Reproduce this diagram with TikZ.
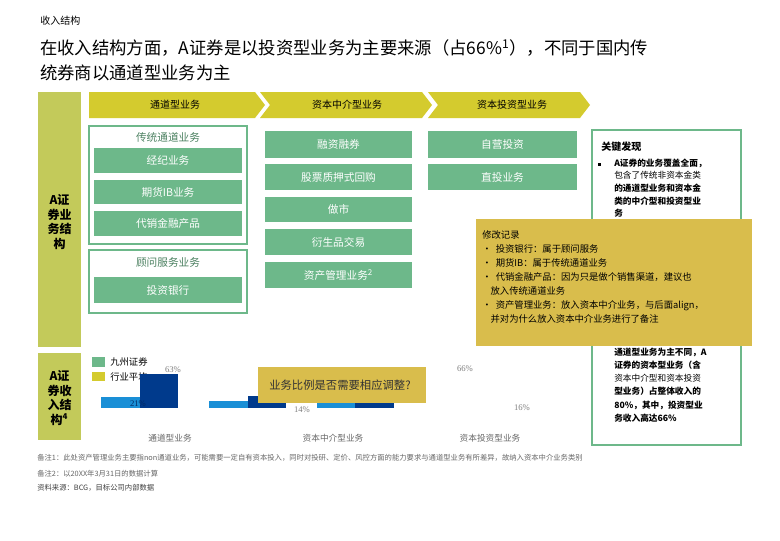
\documentclass[tikz,border=0pt]{standalone}
\usepackage{fontspec}
\setmainfont{Liberation Serif}
\newfontfamily\cjk{Noto Sans CJK SC}
\begin{document}
\begin{tikzpicture}[x=0.75pt,y=-0.75pt,
  obox/.style={draw=boxg,line width=1.2pt,fill=none},
  small/.style={font=\cjk\fontsize{7}{8}\selectfont,anchor=west,inner sep=0pt},
  foot/.style={font=\cjk\fontsize{5.5}{6}\selectfont,anchor=west,inner sep=0pt,text=gray!80!black}]
\definecolor{boxg}{HTML}{6DB88A}
\definecolor{chev}{HTML}{D4CB2E}
\definecolor{lbar}{HTML}{C3CA5A}
\definecolor{ovl}{HTML}{D9BD4C}
\definecolor{dblue}{HTML}{003A8C}
\definecolor{lblue}{HTML}{1A8FD6}
\useasboundingbox (0,0) rectangle (780,540);
\fill[white] (0,0) rectangle (780,540);
% header
\node[anchor=west,inner sep=0pt,font=\cjk\fontsize{7.5}{8}\selectfont] (hdr) at (40,21) {收入结构};
\node[anchor=west,inner sep=0pt,font=\cjk\fontsize{13}{14}\selectfont] (t1) at (40,48) {在收入结构方面，A证券是以投资型业务为主要来源（占66\%\textsuperscript{1}），不同于国内传};
\node[anchor=west,inner sep=0pt,font=\cjk\fontsize{13}{14}\selectfont] (t2) at (40,73) {统券商以通道型业务为主};
% left bars
\fill[lbar] (38,92) rectangle (81,347);
\node[font=\cjk\bfseries\fontsize{9}{11}\selectfont,align=center] (lb1) at (59.5,222) {A证\\券业\\务结\\构};
\fill[lbar] (38,353) rectangle (81,440);
\node[font=\cjk\bfseries\fontsize{9}{11}\selectfont,align=center] (lb2) at (59.5,398) {A证\\券收\\入结\\构\textsuperscript{4}};
% chevrons
\fill[chev] (89,92) -- (255,92) -- (265,105) -- (255,118) -- (89,118) -- cycle;
\fill[chev] (260,92) -- (422,92) -- (432,105) -- (422,118) -- (260,118) -- (270,105) -- cycle;
\fill[chev] (428,92) -- (580,92) -- (590,105) -- (580,118) -- (428,118) -- (438,105) -- cycle;
\node[font=\cjk\fontsize{7.5}{8}\selectfont] (c1) at (175,105) {通道型业务};
\node[font=\cjk\fontsize{7.5}{8}\selectfont] (c2) at (347,105) {资本中介型业务};
\node[font=\cjk\fontsize{7.5}{8}\selectfont] (c3) at (512,105) {资本投资型业务};
% column 1
\draw[obox] (89,126) rectangle (247,244);
\node[font=\cjk\fontsize{8}{9}\selectfont,text=boxg!70!black] (g1) at (168,137) {传统通道业务};
\fill[boxg] (94,148) rectangle (242,173); \node[text=white,font=\cjk\fontsize{8}{9}\selectfont] (b1) at (168,160.5) {经纪业务};
\fill[boxg] (94,180) rectangle (242,204); \node[text=white,font=\cjk\fontsize{8}{9}\selectfont] (b2) at (168,192) {期货IB业务};
\fill[boxg] (94,211) rectangle (242,236); \node[text=white,font=\cjk\fontsize{8}{9}\selectfont] (b3) at (168,223.5) {代销金融产品};
\draw[obox] (89,250) rectangle (247,313);
\node[font=\cjk\fontsize{8}{9}\selectfont,text=boxg!70!black] (g2) at (168,262) {顾问服务业务};
\fill[boxg] (94,277) rectangle (242,303); \node[text=white,font=\cjk\fontsize{8}{9}\selectfont] (b4) at (168,290) {投资银行};
% column 2
\foreach \ya/\yb/\t [count=\i] in {131/158/融资融券,164/190/股票质押式回购,197/222/做市,229/255/衍生品交易,262/288/资产管理业务\textsuperscript{2}}{
  \fill[boxg] (265,\ya) rectangle (412,\yb);
  \node[text=white,font=\cjk\fontsize{8}{9}\selectfont] (m\i) at (338.5,{(\ya+\yb)/2}) {\t};
}
% column 3
\fill[boxg] (428,131) rectangle (577,158); \node[text=white,font=\cjk\fontsize{8}{9}\selectfont] (r1) at (502.5,144.5) {自营投资};
\fill[boxg] (428,164) rectangle (577,190); \node[text=white,font=\cjk\fontsize{8}{9}\selectfont] (r2) at (502.5,177) {直投业务};
% key findings
\draw[draw=boxg,line width=1pt] (592,130) rectangle (741,445);
\node[anchor=west,inner sep=0pt,font=\cjk\bfseries\fontsize{7.5}{8}\selectfont] (kf) at (601,147) {关键发现};
\fill (598,163) rectangle (601,166);
\node[anchor=north west,inner sep=0pt,align=left,font=\cjk\bfseries\fontsize{6.5}{9.5}\selectfont] (kft) at (614,159) {A证券的业务覆盖全面，\\[-0.5pt]\mdseries 包含了传统非资本金类\\的通道型业务和资本金\\类的中介型和投资型业\\务};
\node[anchor=north west,inner sep=0pt,align=left,font=\cjk\bfseries\fontsize{6.5}{9.8}\selectfont] (kfb) at (614,348) {通道型业务为主不同，A\\证券的资本型业务（含\\\mdseries 资本中介型和资本投资\\\bfseries 型业务）占整体收入的\\80\%，其中，投资型业\\务收入高达66\%};
% overlay 1
\fill[ovl] (476,219) rectangle (752,346);
\node[anchor=north west,inner sep=0pt,align=left,font=\cjk\fontsize{7}{10.5}\selectfont] (rev) at (482,230) {修改记录\\•\ \ 投资银行：属于顾问服务\\•\ \ 期货IB：属于传统通道业务\\•\ \ 代销金融产品：因为只是做个销售渠道，建议也\\\ \ \ \ 放入传统通道业务\\•\ \ 资产管理业务：放入资本中介业务，与后面align，\\\ \ \ \ 并对为什么放入资本中介业务进行了备注};
% chart
\fill[boxg] (92,357) rectangle (105,367);
\node[small] (l1) at (110,362) {九州证券};
\fill[chev] (92,372) rectangle (105,381);
\node[small] (l2) at (110,377) {行业平均};
\fill[lblue] (101,397) rectangle (140,408);
\fill[dblue] (140,374) rectangle (178,408);
\fill[lblue] (209,401) rectangle (248,408);
\fill[dblue] (248,396) rectangle (286,408);
\fill[lblue] (317,401) rectangle (355,408);
\fill[dblue] (355,396) rectangle (394,408);
\node[font=\fontsize{6.5}{7}\selectfont,text=gray] (p1) at (173,370) {63\%};
\node[font=\fontsize{6.5}{7}\selectfont,text=dblue!70!black] (p2) at (138,404) {21\%};
\node[font=\fontsize{6.5}{7}\selectfont,text=gray] (p3) at (302,410) {14\%};
\node[font=\fontsize{6.5}{7}\selectfont,text=gray] (p4) at (465,369) {66\%};
\node[font=\fontsize{6.5}{7}\selectfont,text=gray] (p5) at (522,408) {16\%};
\fill[ovl] (258,367) rectangle (426,403);
\node[font=\cjk\fontsize{8.5}{9}\selectfont,text=black!80] (q) at (340,385) {业务比例是否需要相应调整?};
\node[font=\cjk\fontsize{6.5}{7}\selectfont,text=gray!80!black] (x1) at (170,438) {通道型业务};
\node[font=\cjk\fontsize{6.5}{7}\selectfont,text=gray!80!black] (x2) at (333,438) {资本中介型业务};
\node[font=\cjk\fontsize{6.5}{7}\selectfont,text=gray!80!black] (x3) at (490,438) {资本投资型业务};
% footnotes
\node[foot] (f1) at (37,458) {备注1：此处资产管理业务主要指non通道业务，可能需要一定自有资本投入，同时对投研、定价、风控方面的能力要求与通道型业务有所差异，故纳入资本中介业务类别};
\node[foot] (f2) at (37,474) {备注2：以20XX年3月31日的数据计算};
\node[foot,text=black!75] (f3) at (37,488) {资料来源：BCG，目标公司内部数据};
\end{tikzpicture}
\end{document}
